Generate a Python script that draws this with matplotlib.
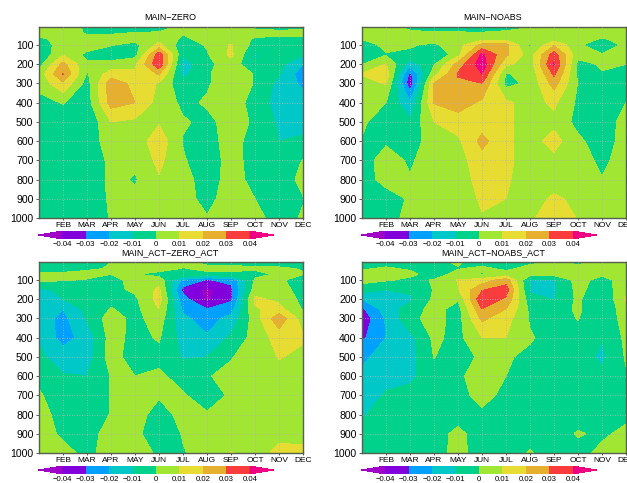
import numpy as np
import matplotlib
matplotlib.use("Agg")
import matplotlib.pyplot as plt

# pressure levels (top of the axis first) and months
NIVEIS = [6, 40, 70, 100, 150, 200, 250, 300, 400, 500, 600, 700, 800, 900, 1000]
MESES = ["FEB", "MAR", "APR", "MAY", "JUN", "JUL", "AUG", "SEP", "OCT", "NOV", "DEC"]
YTICKS = [100, 200, 300, 400, 500, 600, 700, 800, 900, 1000]
NIVEIS_COR = [-0.04, -0.03, -0.02, -0.01, 0, 0.01, 0.02, 0.03, 0.04]
ROTULOS_COR = ["\u22120.04", "\u22120.03", "\u22120.02", "\u22120.01", "0", "0.01", "0.02", "0.03", "0.04"]
CORES = ["#8200dc", "#00a0ff", "#00c8c8", "#00d28c", "#a0e632", "#e6dc32", "#e6af2d", "#fa3c3c"]
COR_BAIXO = "#a000c8"
COR_ALTO = "#f00082"

# values in units of 0.01, one list per month (JAN..DEC), one entry per level
MAIN_ZERO = [
    [.5, .3, -.3, -.5, -.9, -.4, .4, .3, -.3, -.5, -.6, -.6, -.6, -.6, -.6],
    [.6, .6, .5, .4, .9, 2.3, 3.05, 1.8, .05, -.5, -.6, -.6, -.6, -.6, -.6],
    [-.2, -.1, .5, .6, -.3, .2, -.1, -.4, -.5, -.9, -.7, -.9, -.9, -.9, -.9],
    [-.2, -.05, .4, .05, -.5, .3, 1.5, 2.6, 2.4, 1.0, .6, .3, .3, .2, .1],
    [-.2, .05, .3, -.3, -.4, .8, 1.2, 1.7, 2.0, .8, .4, .2, -.1, .2, .2],
    [-.3, .1, .7, 1.3, 3.6, 3.8, 2.1, .9, .6, .9, 1.6, 1.25, .9, .4, .3],
    [.2, .05, -.2, -.6, -.9, -1.5, -1.3, -.8, -.2, .1, -.05, .1, .4, .3, .3],
    [.4, .5, .3, .1, -.1, -.3, -.1, -.1, .1, -.2, -.5, -.6, -.5, -.25, .05],
    [.4, .4, .5, 1.1, 1.2, .6, .5, .5, .4, .3, .5, .4, .4, .4, .4],
    [-.1, .2, -.1, -.4, -1.1, -.9, -.05, -.05, -.3, -.1, -.5, -.4, -.3, 0, .3],
    [-.2, .2, -.2, -.3, -.5, -.7, -.9, -1.3, -1.5, -1.2, -1, -.8, -.6, -.5, -.4],
    [-.2, .3, -.3, -.5, -.9, -2, -2.6, -2.2, -1.6, -1.2, -.9, .05, .3, -.05, .1],
]
MAIN_NOABS = [
    [.6, .5, 0, -.4, -.5, -.05, 1.05, .7, .3, .15, -.05, -.3, -.4, -.5, -.2],
    [.2, .3, .5, .2, -.05, 1.05, 1.6, 1.05, 0, -.5, -.1, .3, .3, -.4, -.4],
    [-.1, .1, .3, .1, -.2, -1.6, -3.3, -3.7, -1.9, -.8, -.6, -.1, .05, .1, .3],
    [-.3, .1, .4, -.2, -1.1, -.1, .6, 2.05, 2.05, 1.0, .6, .4, .4, .4, .4],
    [-.3, .1, .3, .6, .7, 2.4, 3.1, 2.8, 2.5, 1.5, .8, .6, .6, .6, .6],
    [-.4, .1, .7, 2.3, 4.2, 4.6, 4.0, 3.0, 1.8, 1.5, 2.3, 1.6, 1.3, 1.1, .95],
    [-.4, .3, .8, 2.3, 2.2, 1.2, -.05, -.3, 1.2, 1.2, 1.2, 1.2, 1.1, 1.0, .95],
    [-.05, .4, .5, -.2, .5, .5, .2, .2, .6, .6, .6, .6, .6, .6, .85],
    [.3, .4, .6, 1.9, 3.5, 4.1, 3.2, 2.4, 1.2, .7, 1.4, .7, .6, 1.15, 1.5],
    [.3, .3, .4, .2, .3, -.3, -.2, -.05, -.2, -.3, .2, .4, .5, .8, .95],
    [.3, .3, -.1, -.8, .1, .1, -.05, -.6, -.8, -.6, -.5, -.2, .03, .5, .5],
    [.4, .5, .3, .3, .4, 0, -.3, -.3, 0, .4, .4, .4, .4, .4, .4],
]
ACT_ZERO = [
    [-.3, -.2, .1, .3, -1.2, -1.5, -1.6, -1.5, -1.1, -.8, -.2, .1, .3, .4, .5],
    [-.3, -.2, .1, .05, -.8, -1.0, -2.0, -2.3, -2.4, -1.5, -.9, -.5, -.3, -.15, .3],
    [-.2, -.1, .2, -.05, -.5, -.5, -.7, -.9, -1.6, -1.5, -1.0, -.6, -.6, -.3, -.25],
    [0, .05, 0, -.4, -.3, -.3, .05, .5, .4, .5, .05, .05, .05, .3, .4],
    [.3, .5, .05, .4, .2, -.2, -.3, -.3, -.3, -.6, 0, .5, .4, .2, .3],
    [.4, .5, -.4, .6, 1.2, 1.4, 1.0, .5, .1, -.3, .2, .1, -.4, -.5, -.1],
    [.2, -.05, -.2, -2.3, -3.3, -2.6, -2.2, -1.8, -1.4, -1.1, -.4, .1, .3, .05, -.05],
    [-.2, .2, -.2, -3.1, -4.2, -4.2, -3.0, -2.4, -1.9, -1.0, -.05, -.5, .1, .3, .3],
    [-.2, .2, -.2, -2.7, -3.3, -3.2, -2.4, -1.7, -.8, -.05, .2, .15, .4, .4, 1.05],
    [-.3, .1, -.2, .1, .5, 1.2, .9, .5, .4, .4, .4, .4, .4, .4, .5],
    [-.3, .1, .1, .3, .6, .8, 1.3, 2.7, 1.4, 1.05, .7, .5, .5, .7, 1.3],
    [-.4, -.05, .05, -.8, -.6, -.3, -.1, .5, 1.1, .8, .6, .6, .5, .6, 1.3],
]
ACT_NOABS = [
    [-.3, -.1, .4, .3, -.5, -2.0, -3.2, -3.7, -3.2, -2.2, -1.8, -1.5, -1.05, -.8, -.5],
    [-.3, .1, .5, .1, -1.0, -1.3, -1.5, -1.9, -2.0, -1.6, -1.3, -.9, -.8, -.6, -.5],
    [-.2, -.1, .2, -.2, -.8, -1.2, -.6, -.3, -1.3, -1.4, -1.2, -.7, -.5, -.5, -.5],
    [-.2, -.4, -.4, .05, .05, .2, .4, .4, .2, .03, -.5, -.5, -.5, -.5, -.5],
    [.1, -.05, .3, 1.05, .95, .1, -.4, -.4, -.3, -.5, -.3, -.5, -.5, .3, .4],
    [-.4, .2, -.1, 1.4, 2.9, 3.8, 3.0, 2.2, 1.0, .2, .8, .5, -.3, -.6, -.6],
    [-.3, -.2, .4, 2.5, 3.5, 2.8, 2.0, 1.4, 1.0, .1, 0, -.4, -.5, -.5, -.5],
    [-.2, .3, .4, -1.1, -1.2, -.6, -.2, -.1, .1, -.2, -.5, -.5, -.5, -.5, .1],
    [.05, .3, .3, -1.1, -1.2, -1.05, -.6, -.5, -.4, -.5, -.5, -.5, -.5, -.5, -.5],
    [-.2, .3, .3, .4, .3, .2, .2, .05, -.4, -.5, -.5, -.5, -.5, .1, -.4],
    [.1, .3, .2, -.4, -.6, -1.05, -1.05, -.9, -.95, -1.2, -.8, -.5, -.5, -.2, .3],
    [.3, .4, .5, .5, .7, 1.1, .7, .5, .2, .1, -.1, -.3, -.3, .3, .5],
]

TITULOS = ["MAIN\u2212ZERO", "MAIN\u2212NOABS", "MAIN_ACT\u2212ZERO_ACT", "MAIN_ACT\u2212NOABS_ACT"]
PAINEIS = [MAIN_ZERO, MAIN_NOABS, ACT_ZERO, ACT_NOABS]
# left, top of each panel in pixels
POSICOES = [(39, 27), (362, 27), (39, 262), (362, 262)]
LARGURA, ALTURA = 264, 191
W, H = 627, 483

plt.rcParams["font.family"] = ["Liberation Sans", "DejaVu Sans"]
fig = plt.figure(figsize=(W / 100, H / 100), dpi=100)

for i, dados in enumerate(PAINEIS):
    x0, y0 = POSICOES[i]
    ax = fig.add_axes([x0 / W, 1 - (y0 + ALTURA) / H, LARGURA / W, ALTURA / H])
    z = np.array(dados).T * 0.01
    cf = ax.contourf(np.arange(12), NIVEIS, z, levels=NIVEIS_COR, colors=CORES, extend="both")
    cf.cmap.set_under(COR_BAIXO)
    cf.cmap.set_over(COR_ALTO)
    cf.changed()
    ax.set_ylim(1000, 6)
    ax.set_xlim(0, 11)
    ax.set_xticks(np.arange(1, 12))
    ax.set_xticklabels(MESES, fontsize=6)
    ax.set_yticks(YTICKS)
    ax.set_yticklabels(YTICKS, fontsize=7.6)
    ax.tick_params(axis="x", length=1.5, width=0.6, pad=1.5, color="#444444")
    ax.tick_params(axis="y", length=2.5, width=0.6, pad=1.5, color="#444444")
    ax.set_axisbelow(False)
    ax.grid(True, color="#b4b4b4", linestyle=(0, (1, 2)), linewidth=0.6)
    for s in ax.spines.values():
        s.set_color("#556050")
        s.set_linewidth(1.0)
    fig.text((x0 + LARGURA / 2 - 1) / W, 1 - (y0 - 9) / H, TITULOS[i], fontsize=6.4,
             ha="center", va="center")

    # horizontal colour bar under each panel, the triangles stick out at both ends
    cax = fig.add_axes([(x0 - 1) / W, 1 - (y0 + ALTURA + 21) / H, 236 / W, 8 / H])
    cb = fig.colorbar(cf, cax=cax, orientation="horizontal", extend="both", extendfrac=0.128,
                      ticks=NIVEIS_COR, drawedges=False)
    cb.ax.set_xticklabels(ROTULOS_COR, fontsize=5.6)
    cb.ax.tick_params(length=0, pad=1.5)
    cb.outline.set_visible(False)
    if i % 2 == 0:
        # black mark at the last box of the left-hand bars
        cb.ax.axvline(0.04, color="black", lw=0.9)

fig.savefig("out.png", dpi=100)
